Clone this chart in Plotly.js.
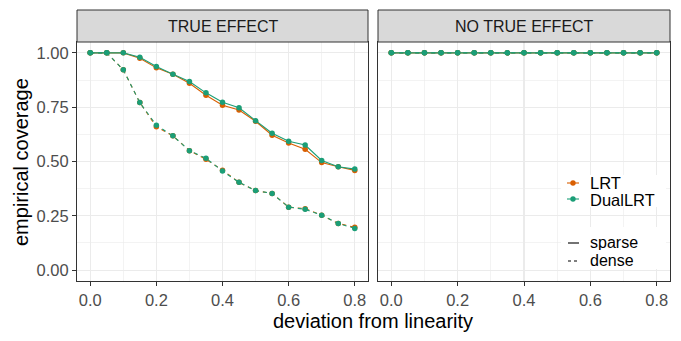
<!DOCTYPE html>
<html>
<head>
<meta charset="utf-8">
<script src="https://cdn.plot.ly/plotly-3.0.1.min.js"></script>
<style>
  html, body { margin: 0; padding: 0; background: #fff; }
  #myDiv { width: 681px; height: 341px; }
</style>
</head>
<body>
<div id="myDiv"></div>
<script>
// deviation from linearity
var dev = [0, 0.05, 0.1, 0.15, 0.2, 0.25, 0.3, 0.35, 0.4, 0.45, 0.5, 0.55, 0.6, 0.65, 0.7, 0.75, 0.8];

// TRUE EFFECT panel
var lrtSparseTrue  = [1, 1, 1, 0.975, 0.931, 0.902, 0.860, 0.805, 0.759, 0.737, 0.685, 0.621, 0.585, 0.556, 0.495, 0.476, 0.459];
var dualSparseTrue = [1, 1, 1, 0.980, 0.937, 0.902, 0.868, 0.816, 0.773, 0.747, 0.688, 0.630, 0.593, 0.576, 0.505, 0.476, 0.465];
var lrtDenseTrue   = [1, 1, 0.922, 0.771, 0.660, 0.618, 0.550, 0.510, 0.460, 0.404, 0.366, 0.353, 0.290, 0.283, 0.253, 0.215, 0.197];
var dualDenseTrue  = [1, 1, 0.922, 0.771, 0.667, 0.618, 0.550, 0.515, 0.456, 0.404, 0.366, 0.353, 0.290, 0.280, 0.253, 0.215, 0.192];

// NO TRUE EFFECT panel
var lrtSparseNull  = [1, 1, 1, 1, 1, 1, 1, 1, 1, 1, 1, 1, 1, 1, 1, 1, 1];
var dualSparseNull = [1, 1, 1, 1, 1, 1, 1, 1, 1, 1, 1, 1, 1, 1, 1, 1, 1];
var lrtDenseNull   = [1, 1, 1, 1, 1, 1, 1, 1, 1, 1, 1, 1, 1, 1, 1, 1, 1];
var dualDenseNull  = [1, 1, 1, 1, 1, 1, 1, 1, 1, 1, 1, 1, 1, 1, 1, 1, 1];

var panels = ['TRUE EFFECT', 'NO TRUE EFFECT'];
var methods = ['LRT', 'DualLRT'];
var types = ['sparse', 'dense'];

var colLRT = '#D95F02';
var colDual = '#1B9E77';
var dashed = '4px,4px';

function tr(y, col, dash, xa, ya) {
  return {
    x: dev, y: y, xaxis: xa, yaxis: ya,
    type: 'scatter', mode: 'lines+markers',
    line: {color: col, width: 1.1, dash: dash},
    marker: {color: col, size: 5.5},
    showlegend: false, hoverinfo: 'x+y'
  };
}

var data = [
  tr(lrtSparseTrue, colLRT, 'solid', 'x', 'y'),
  tr(lrtDenseTrue, colLRT, dashed, 'x', 'y'),
  tr(dualSparseTrue, colDual, 'solid', 'x', 'y'),
  tr(dualDenseTrue, colDual, dashed, 'x', 'y'),
  tr(lrtSparseNull, colLRT, 'solid', 'x2', 'y2'),
  tr(lrtDenseNull, colLRT, dashed, 'x2', 'y2'),
  tr(dualSparseNull, colDual, 'solid', 'x2', 'y2'),
  tr(dualDenseNull, colDual, dashed, 'x2', 'y2')
];

// plot area in pixels
var L = 77, R = 11, T = 42, B = 60, W = 681, H = 341;
var pw = W - L - R, ph = H - T - B;
function px(v) { return (v - L) / pw; }
function py(v) { return (H - B - v) / ph; }

var grid = '#EBEBEB';
function xax(dom, anchor) {
  return {
    domain: dom, anchor: anchor, range: [-0.04, 0.84],
    tickvals: [0, 0.2, 0.4, 0.6, 0.8], ticktext: ['0.0', '0.2', '0.4', '0.6', '0.8'],
    ticks: 'outside', ticklen: 4, tickwidth: 1, tickcolor: '#333333',
    tickfont: {size: 16.5, color: '#4D4D4D'},
    showgrid: true, gridcolor: grid, gridwidth: 1.1,
    minor: {tickvals: [0.1, 0.3, 0.5, 0.7], showgrid: true, gridcolor: grid, gridwidth: 0.6, ticks: ''},
    zeroline: false, showline: true, mirror: true, linecolor: '#333333', linewidth: 1
  };
}
function yax(anchor, labels) {
  return {
    anchor: anchor, domain: [0, 1], range: [-0.05, 1.05],
    tickvals: [0, 0.25, 0.5, 0.75, 1], ticktext: ['0.00', '0.25', '0.50', '0.75', '1.00'],
    showticklabels: labels, ticks: labels ? 'outside' : '', ticklen: 4, tickwidth: 1, tickcolor: '#333333',
    tickfont: {size: 16.5, color: '#4D4D4D'},
    showgrid: true, gridcolor: grid, gridwidth: 1.1,
    minor: {tickvals: [0.125, 0.375, 0.625, 0.875], showgrid: true, gridcolor: grid, gridwidth: 0.6, ticks: ''},
    zeroline: false, showline: true, mirror: true, linecolor: '#333333', linewidth: 1
  };
}

var d1 = 291 / pw, d2 = 301 / pw;
var stripTop = 1 + 32 / ph;

var shapes = [
  {type: 'rect', xref: 'paper', yref: 'paper', x0: 0, x1: d1, y0: 1, y1: stripTop,
    fillcolor: '#D9D9D9', line: {color: '#333333', width: 1}},
  {type: 'rect', xref: 'paper', yref: 'paper', x0: d2, x1: 1, y0: 1, y1: stripTop,
    fillcolor: '#D9D9D9', line: {color: '#333333', width: 1}},
  // legend backgrounds
  {type: 'rect', xref: 'paper', yref: 'paper', x0: px(561), x1: px(666), y0: py(207), y1: py(175),
    fillcolor: '#fff', line: {width: 0}, layer: 'above'},
  {type: 'rect', xref: 'paper', yref: 'paper', x0: px(561), x1: px(666), y0: py(269), y1: py(227),
    fillcolor: '#fff', line: {width: 0}, layer: 'above'}
];
var annotations = [
  {text: panels[0], xref: 'paper', yref: 'paper', x: d1 / 2, y: (1 + stripTop) / 2,
    xanchor: 'center', yanchor: 'middle', showarrow: false, font: {size: 16, color: '#1A1A1A'}},
  {text: panels[1], xref: 'paper', yref: 'paper', x: (d2 + 1) / 2, y: (1 + stripTop) / 2,
    xanchor: 'center', yanchor: 'middle', showarrow: false, font: {size: 16, color: '#1A1A1A'}},
  {text: 'deviation from linearity', xref: 'paper', yref: 'paper', x: px(373), y: py(321),
    xanchor: 'center', yanchor: 'middle', showarrow: false, font: {size: 20, color: '#000'}},
  {text: 'empirical coverage', xref: 'paper', yref: 'paper', x: px(21), y: py(162), textangle: -90,
    xanchor: 'center', yanchor: 'middle', showarrow: false, font: {size: 20, color: '#000'}}
];

// hand-made legend (short ggplot-style keys)
var legCols = [colLRT, colDual];
var legY1 = [183, 199];
for (var i = 0; i < methods.length; i++) {
  shapes.push({type: 'line', xref: 'paper', yref: 'paper', x0: px(567), x1: px(579), y0: py(legY1[i]), y1: py(legY1[i]),
    line: {color: legCols[i], width: 1.1}, layer: 'above'});
  shapes.push({type: 'circle', xref: 'paper', yref: 'paper', x0: px(570.3), x1: px(575.7), y0: py(legY1[i] + 2.7), y1: py(legY1[i] - 2.7),
    fillcolor: legCols[i], line: {width: 0}, layer: 'above'});
  annotations.push({text: methods[i], xref: 'paper', yref: 'paper', x: px(589), y: py(legY1[i]),
    xanchor: 'left', yanchor: 'middle', showarrow: false, height: 15, borderpad: 0, valign: 'middle',
    font: {size: 16.5, color: '#000'}});
}
var legY2 = [242, 260];
var legDash = ['solid', '3px,3px'];
for (var j = 0; j < types.length; j++) {
  shapes.push({type: 'line', xref: 'paper', yref: 'paper', x0: px(568), x1: px(579), y0: py(legY2[j] + 1), y1: py(legY2[j] + 1),
    line: {color: '#000', width: 1.1, dash: legDash[j]}, layer: 'above'});
  annotations.push({text: types[j], xref: 'paper', yref: 'paper', x: px(589), y: py(legY2[j]),
    xanchor: 'left', yanchor: 'middle', showarrow: false, height: 15, borderpad: 0, valign: 'middle',
    font: {size: 16, color: '#000'}});
}

var layout = {
  width: W, height: H,
  margin: {l: L, r: R, t: T, b: B},
  paper_bgcolor: '#fff', plot_bgcolor: '#fff',
  font: {family: 'Liberation Sans, Arial, sans-serif', color: '#000'},
  xaxis: xax([0, d1], 'y'),
  xaxis2: xax([d2, 1], 'y2'),
  yaxis: yax('x', true),
  yaxis2: yax('x2', false),
  showlegend: false,
  shapes: shapes,
  annotations: annotations
};

Plotly.newPlot('myDiv', data, layout, {staticPlot: true});
</script>
</body>
</html>
